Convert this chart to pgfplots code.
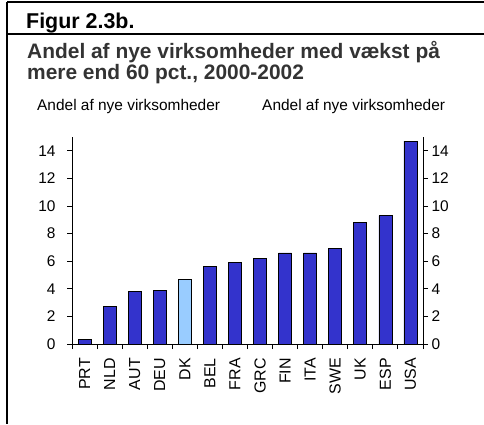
\documentclass[border=0pt]{standalone}
\usepackage{pgfplots}
\pgfplotsset{compat=1.18}
\usepackage{fontspec}
\setmainfont{Liberation Sans}
\definecolor{barblue}{HTML}{3333CC}
\definecolor{dkblue}{HTML}{99CCFF}
\definecolor{titlegray}{HTML}{333333}
\pgfplotstableread{
x val
0 0.3
1 2.7
2 3.8
3 3.9
5 5.6
6 5.9
7 6.2
8 6.6
9 6.6
10 6.9
11 8.8
12 9.3
13 14.7
}\others
\pgfplotstableread{
x val
4 4.7
}\dk
\begin{document}
\begin{tikzpicture}[x=1bp,y=1bp]
\path[use as bounding box] (0,0) rectangle (484,-424);
\draw[line width=1.3bp] (7,-2) -- (484,-2);
\draw[line width=1.3bp] (7,-34) -- (484,-34);
\draw[line width=1.3bp] (7,-2) -- (7,-424);
\node[anchor=base west, inner sep=0, font=\bfseries\fontsize{21.5}{24}\selectfont] at (26,-28) {Figur 2.3b.};
\node[anchor=base west, inner sep=0, text=titlegray, font=\bfseries\fontsize{21}{24}\selectfont] at (27,-58) {Andel af nye virksomheder med vækst på};
\node[anchor=base west, inner sep=0, text=titlegray, font=\bfseries\fontsize{21}{24}\selectfont] at (27,-79) {mere end 60 pct., 2000-2002};
\node[anchor=base west, inner sep=0, font=\fontsize{15.5}{17}\selectfont] at (37,-110) {Andel af nye virksomheder};
\node[anchor=base west, inner sep=0, font=\fontsize{15.5}{17}\selectfont] at (262,-110) {Andel af nye virksomheder};
\begin{axis}[
  at={(72bp,-344bp)}, anchor=south west,
  scale only axis, width=351bp, height=207bp,
  xmin=-0.5, xmax=13.5, ymin=0, ymax=15,
  axis x line*=bottom, axis y line*=left,
  axis line style={line width=0.9bp, -},
  tick align=outside, major tick length=5bp,
  tick style={black, line width=0.9bp},
  xtick={-0.5,0.5,...,13.5},
  x tick label as interval,
  xticklabels={PRT,NLD,AUT,DEU,DK,BEL,FRA,GRC,FIN,ITA,SWE,UK,ESP,USA},
  x tick label style={rotate=90, anchor=east, font=\fontsize{16}{16}\selectfont, inner sep=1bp},
  xticklabel shift=8bp,
  ytick={0,2,...,14},
  y tick label style={font=\fontsize{15.5}{15.5}\selectfont, xshift=-8bp},
  /pgf/number format/assume math mode=true,
  ybar, bar width=13bp, bar shift=0pt,
]
\addplot[fill=barblue, draw=black, line width=0.8bp, bar shift=0pt] table[x=x,y=val] {\others};
\addplot[fill=dkblue, draw=black, line width=0.8bp, bar shift=0pt] table[x=x,y=val] {\dk};
\end{axis}
\begin{axis}[
  at={(72bp,-344bp)}, anchor=south west,
  scale only axis, width=351bp, height=207bp,
  xmin=-0.5, xmax=13.5, ymin=0, ymax=15,
  axis x line=none, axis y line*=right,
  axis line style={line width=0.9bp, -},
  tick align=outside, major tick length=5bp,
  tick style={black, line width=0.9bp},
  ytick={0,2,...,14},
  y tick label style={font=\fontsize{15.5}{15.5}\selectfont},
  /pgf/number format/assume math mode=true,
]
\end{axis}
\end{tikzpicture}
\end{document}
